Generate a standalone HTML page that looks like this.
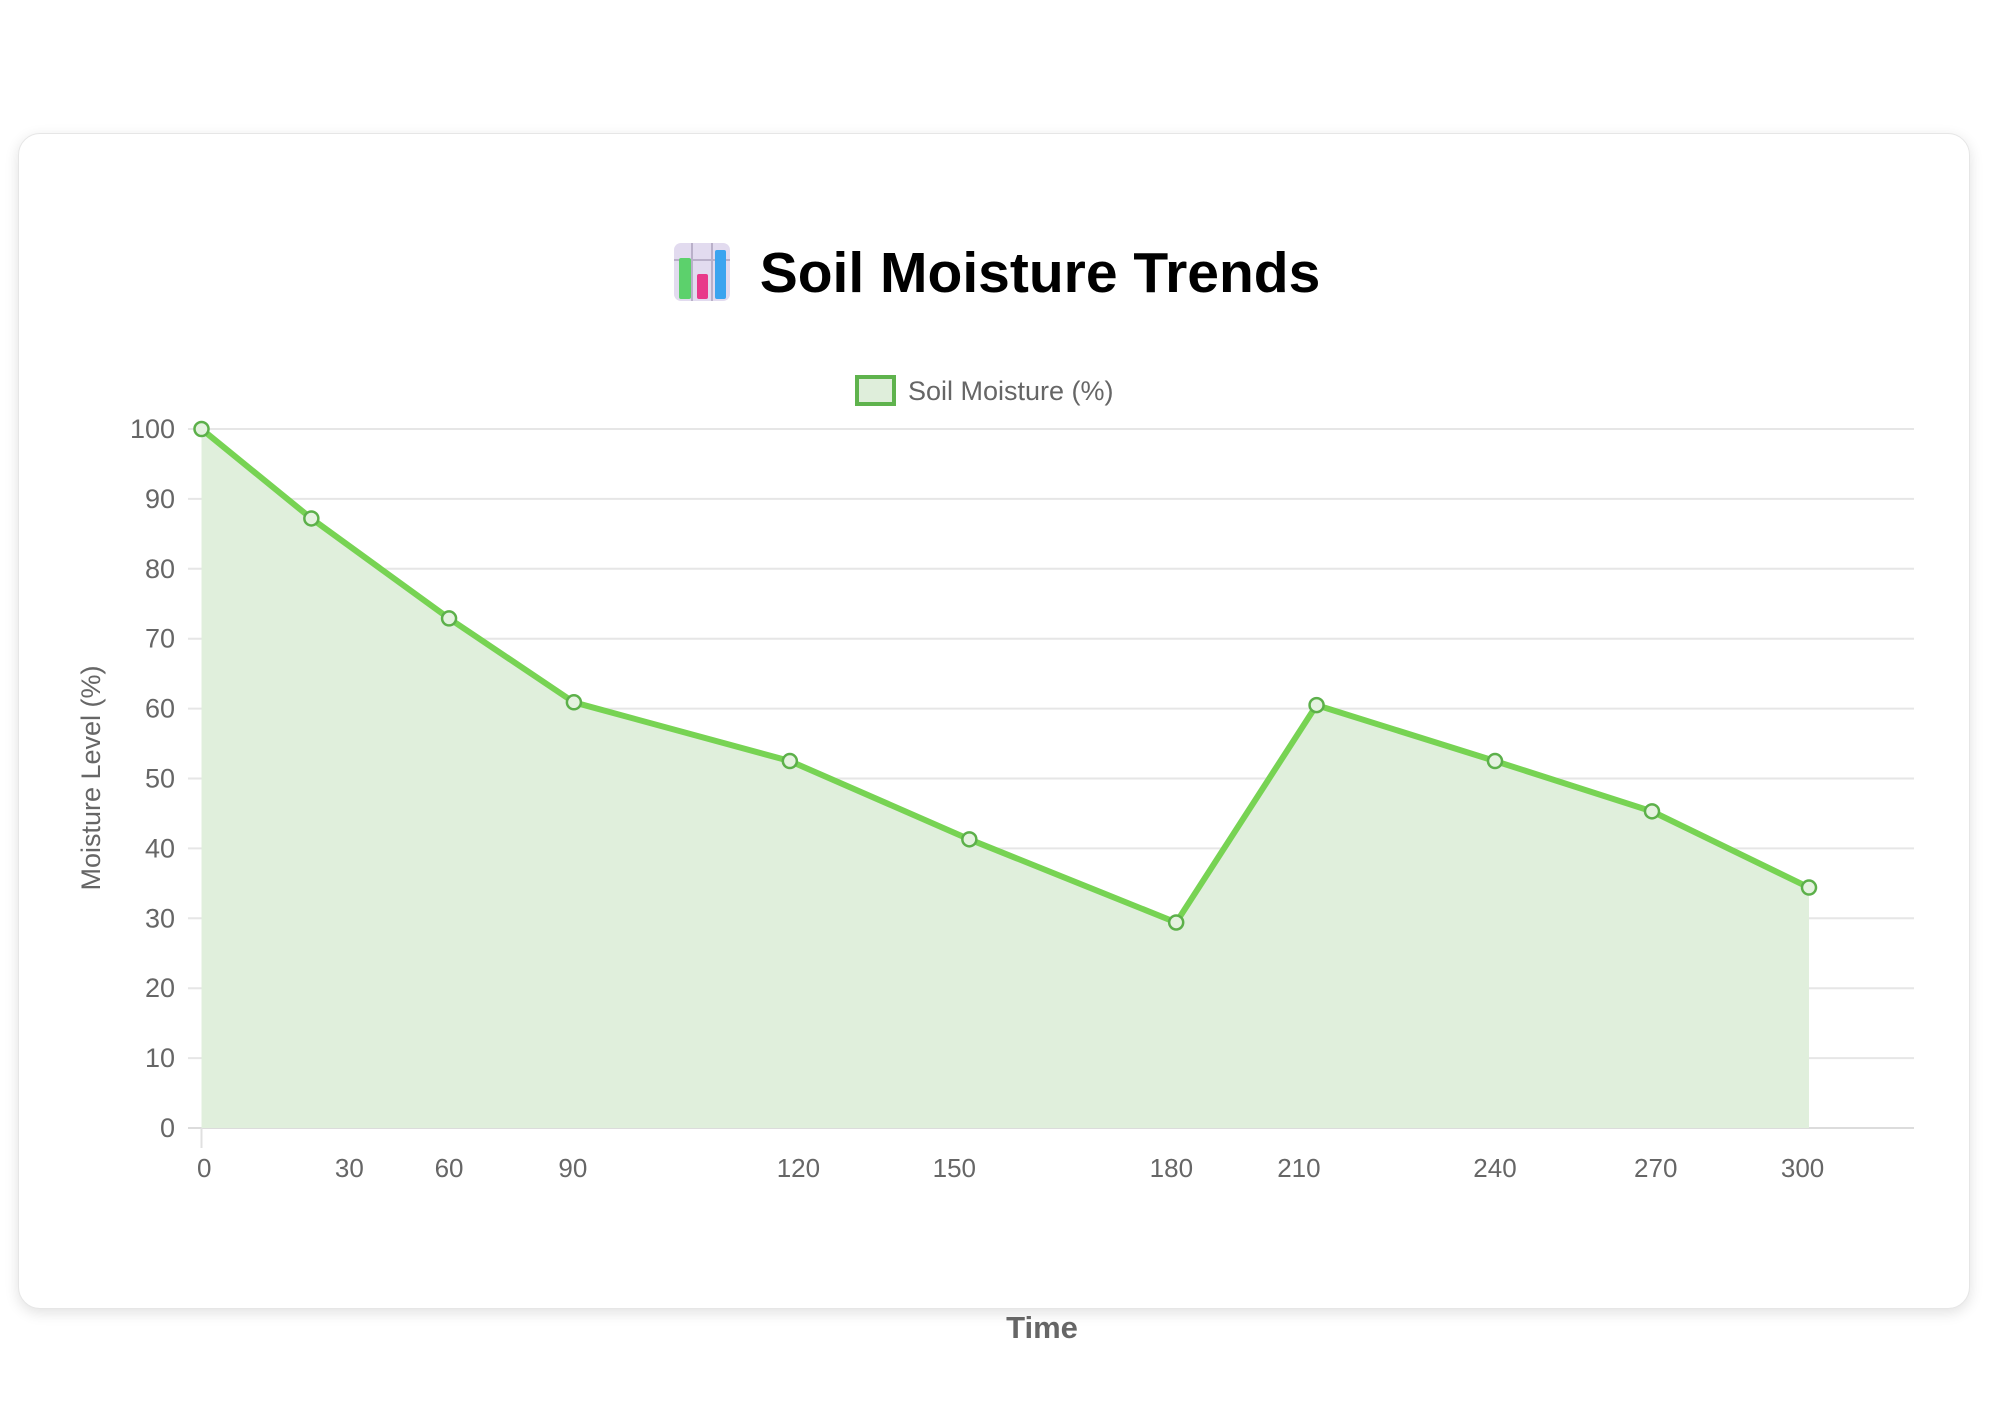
<!DOCTYPE html>
<html><head><meta charset="utf-8"><style>
html,body{margin:0;padding:0;background:#fff;width:2000px;height:1414px;overflow:hidden;font-family:"Liberation Sans",sans-serif}
#card{position:absolute;left:18px;top:133px;width:1950px;height:1174px;border-radius:22px;background:#fff;box-shadow:0 4px 14px rgba(0,0,0,0.12);border:1px solid #e6e6e6}
svg{position:absolute;left:0;top:0}
</style></head><body>
<div id="card"></div>
<svg id="chart" width="2000" height="1414">
  <g>
    <rect x="674" y="243" width="56" height="58" rx="7" fill="#e2dbef"/>
    <line x1="692" y1="243" x2="692" y2="301" stroke="#b9b0c9" stroke-width="2"/>
    <line x1="712" y1="243" x2="712" y2="301" stroke="#b9b0c9" stroke-width="2"/>
    <line x1="674" y1="260" x2="730" y2="260" stroke="#b9b0c9" stroke-width="2"/>
    <rect x="679" y="258" width="12" height="41" rx="2" fill="#5cd16c"/>
    <rect x="697" y="274" width="11" height="25" rx="2" fill="#e8398a"/>
    <rect x="715" y="250" width="11" height="49" rx="2" fill="#3ba4ef"/>
    <text x="1040" y="292" text-anchor="middle" font-size="57" font-weight="bold" fill="#000">Soil Moisture Trends</text>
  </g>
  <g>
    <rect x="857" y="377" width="37" height="27" fill="#dfeedb" stroke="#5fb34d" stroke-width="4"/>
    <text x="908" y="400" font-size="27" fill="#666">Soil Moisture (%)</text>
  </g>
  <g id="grid"></g><g id="area"></g><g id="yt"></g><g id="xt"></g>
  <text transform="translate(100,778) rotate(-90)" text-anchor="middle" font-size="27" fill="#666">Moisture Level (%)</text>
  <text x="1042" y="1338" text-anchor="middle" font-size="31" font-weight="bold" fill="#666">Time</text>
</svg>
<script>
const times=[0,20.5,46.2,69.5,109.8,143.3,181.9,208.1,241.4,270.7,300];
const moisture=[100,87.2,72.9,60.9,52.5,41.3,29.4,60.5,52.5,45.3,34.4];
const xTickLabels=["0","30","60","90","120","150","180","210","240","270","300"];
const xTickTimes=[0.5,27.6,46.2,69.3,111.4,140.5,181,204.8,241.4,271.4,298.8];
const yTicks=[0,10,20,30,40,50,60,70,80,90,100];
const NS="http://www.w3.org/2000/svg";
const X0=201.5,X1=1809,Y0=1128,Y1=429;
function xs(t){return X0+(X1-X0)*t/300;}
function ys(v){return Y0+(Y1-Y0)*v/100;}
function mk(tag,attrs,parent){const e=document.createElementNS(NS,tag);for(const k in attrs)e.setAttribute(k,attrs[k]);parent.appendChild(e);return e;}
const grid=document.getElementById('grid'),yt=document.getElementById('yt'),xt=document.getElementById('xt'),area=document.getElementById('area');
yTicks.forEach(v=>{
  const l=mk('line',{x1:188,x2:1914,y1:ys(v),y2:ys(v),stroke:v===0?'#dcdcdc':'#e6e6e6','stroke-width':2},grid);
  
  
  const t=mk('text',{x:175,y:ys(v)+9,'text-anchor':'end','font-size':27,fill:'#666'},yt);
  t.textContent=v;
  
  
});
mk('line',{x1:X0,x2:X0,y1:Y0,y2:Y0+20,stroke:'#e0e0e0','stroke-width':2},grid);
xTickLabels.forEach((s,i)=>{
  const t=mk('text',{x:xs(xTickTimes[i]),y:1177,'text-anchor':'middle','font-size':26,fill:'#666'},xt);
  t.textContent=s;
  
  
});
let d='M'+xs(times[0])+','+ys(0);
times.forEach((t,i)=>{d+=' L'+xs(t)+','+ys(moisture[i]);});
d+=' L'+xs(times[times.length-1])+','+ys(0)+' Z';
const fill=mk('path',{d:d,fill:'#e0efdc'},area);


const pts=times.map((t,i)=>xs(t)+','+ys(moisture[i])).join(' ');
const line=mk('polyline',{points:pts,fill:'none',stroke:'#77d353','stroke-width':6,'stroke-linejoin':'round'},area);


times.forEach((t,i)=>{
  const c=mk('circle',{cx:xs(t),cy:ys(moisture[i]),r:7,fill:'#e4f2df',stroke:'#5cb04a','stroke-width':2.5},area);
  
  
});
</script>
</body></html>
